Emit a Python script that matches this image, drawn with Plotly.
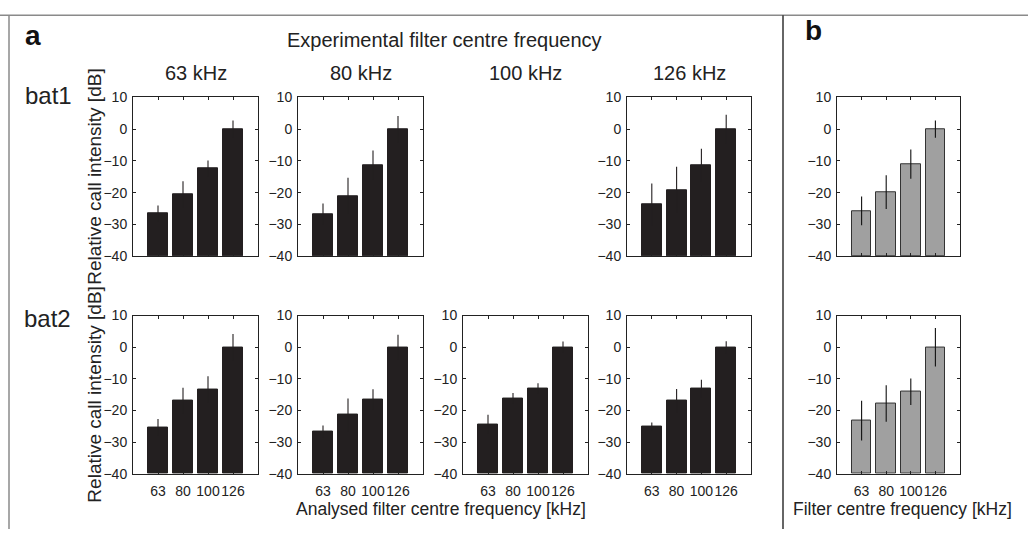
import plotly.graph_objects as go

W, H = 1028, 537

freq_labels = ["63", "80", "100", "126"]
col_titles = ["63 kHz", "80 kHz", "100 kHz", "126 kHz"]

# bat1 (top row), experimental filter 63, 80, 126 kHz (100 kHz missing)
bat1_63 = [-26.6, -20.6, -12.4, 0.0]
bat1_63_err = [2.6, 4.2, 2.5, 2.7]
bat1_80 = [-26.7, -21.0, -11.3, 0.0]
bat1_80_err = [3.3, 5.7, 4.6, 4.1]
bat1_126 = [-23.7, -19.1, -11.3, 0.0]
bat1_126_err = [6.6, 7.3, 5.1, 4.5]

# bat2 (bottom row)
bat2_63 = [-25.3, -16.9, -13.3, 0.0]
bat2_63_err = [2.6, 4.1, 4.1, 4.2]
bat2_80 = [-26.7, -21.4, -16.5, 0.0]
bat2_80_err = [1.9, 5.2, 3.2, 3.9]
bat2_100 = [-24.4, -16.2, -13.0, 0.0]
bat2_100_err = [3.0, 1.7, 1.6, 1.8]
bat2_126 = [-25.1, -16.9, -13.2, 0.0]
bat2_126_err = [1.3, 3.7, 2.9, 1.9]

# panel b (means)
b_bat1 = [-25.7, -19.8, -11.0, 0.0]
b_bat1_err = [4.5, 5.3, 4.6, 2.7]
b_bat2 = [-23.2, -17.8, -14.1, 0.0]
b_bat2_err = [6.3, 5.8, 4.2, 6.1]

y_ticks = [-40, -30, -20, -10, 0, 10]
Y_MIN, Y_MAX = -40, 10

FONT = "Liberation Sans, Arial, Helvetica, sans-serif"
TXT = "#222222"
BLACK_BAR = "#231f20"
GRAY_BAR = "#a0a0a0"

# panel pixel boxes
cols_px = [(133, 258), (298, 423), (463, 588), (627, 751)]
b_px = (837, 960)
rows_px = [(92, 256), (317, 480)]

panels = [
    (bat1_63, bat1_63_err, cols_px[0], 0, False),
    (bat1_80, bat1_80_err, cols_px[1], 0, False),
    (bat1_126, bat1_126_err, cols_px[3], 0, False),
    (b_bat1, b_bat1_err, b_px, 0, True),
    (bat2_63, bat2_63_err, cols_px[0], 1, False),
    (bat2_80, bat2_80_err, cols_px[1], 1, False),
    (bat2_100, bat2_100_err, cols_px[2], 1, False),
    (bat2_126, bat2_126_err, cols_px[3], 1, False),
    (b_bat2, b_bat2_err, b_px, 1, True),
]

fig = go.Figure()
layout_axes = {}
xpos = [1, 2, 3, 4]

for i, (vals, errs, (x0, x1), r, gray) in enumerate(panels):
    n = i + 1
    xa = "x" if n == 1 else f"x{n}"
    ya = "y" if n == 1 else f"y{n}"
    y0, y1 = rows_px[r]
    fig.add_trace(go.Bar(
        x=xpos,
        y=[v - Y_MIN for v in vals],
        base=Y_MIN,
        width=0.8,
        marker=dict(color=GRAY_BAR if gray else BLACK_BAR,
                    line=dict(color="#333333" if gray else BLACK_BAR, width=1)),
        error_y=dict(type="data", array=errs, visible=True,
                     color="#111111" if gray else BLACK_BAR, thickness=1.1, width=0),
        xaxis=xa, yaxis=ya, showlegend=False,
    ))
    common = dict(showline=True, linecolor="#222222", linewidth=1, mirror="ticks",
                  ticks="inside", ticklen=3, tickcolor="#222222", tickwidth=1,
                  showgrid=False, zeroline=False,
                  tickfont=dict(family=FONT, size=14, color=TXT))
    layout_axes["xaxis" if n == 1 else f"xaxis{n}"] = dict(
        domain=[x0 / W, x1 / W], range=[0, 5], anchor=ya,
        tickvals=xpos, ticktext=freq_labels, showticklabels=(r == 1),
        tickangle=0, ticklabelstandoff=5, **common)
    layout_axes["yaxis" if n == 1 else f"yaxis{n}"] = dict(
        domain=[1 - y1 / H, 1 - y0 / H], range=[Y_MIN, Y_MAX], anchor=xa,
        tickvals=y_ticks, ticklabelstandoff=2, **common)

fig.update_layout(**layout_axes)


def ann(text, px, py, size, bold=False, angle=0):
    return dict(text=f"<b>{text}</b>" if bold else text, x=px / W, y=1 - py / H,
                xref="paper", yref="paper", xanchor="center", yanchor="middle",
                showarrow=False, textangle=angle,
                font=dict(family=FONT, size=size, color="#111111" if bold else TXT))


annotations = [
    ann("a", 33, 28, 28, bold=True),
    ann("b", 813, 23, 28, bold=True),
    ann("Experimental filter centre frequency", 444, 33, 20),
    ann("bat1", 48, 90, 24),
    ann("bat2", 47, 320, 24),
    ann("Relative call intensity [dB]", 95, (rows_px[0][0] + rows_px[0][1]) / 2, 19, angle=-90),
    ann("Relative call intensity [dB]", 95, (rows_px[1][0] + rows_px[1][1]) / 2, 19, angle=-90),
    ann("Analysed filter centre frequency [kHz]", 441, 516, 17.5),
    ann("Filter centre frequency [kHz]", 902, 516, 17.5),
]
for t, (x0, x1) in zip(col_titles, cols_px):
    annotations.append(ann(t, (x0 + x1) / 2, 67, 20))

shapes = [
    dict(type="line", xref="paper", yref="paper", x0=0, x1=1,
         y0=1 - 7.5 / H, y1=1 - 7.5 / H, line=dict(color="#8a8a8a", width=1.5)),
    dict(type="line", xref="paper", yref="paper", x0=9 / W, x1=9 / W,
         y0=0, y1=1 - 7.5 / H, line=dict(color="#8a8a8a", width=1.5)),
    dict(type="line", xref="paper", yref="paper", x0=783 / W, x1=783 / W,
         y0=0, y1=1 - 7.5 / H, line=dict(color="#333333", width=1.5)),
]

fig.update_layout(
    width=W, height=H, margin=dict(l=0, r=0, t=0, b=0),
    paper_bgcolor="white", plot_bgcolor="white",
    annotations=annotations, shapes=shapes, bargap=0,
    font=dict(family=FONT, color=TXT),
)

fig.write_html("out.html")
